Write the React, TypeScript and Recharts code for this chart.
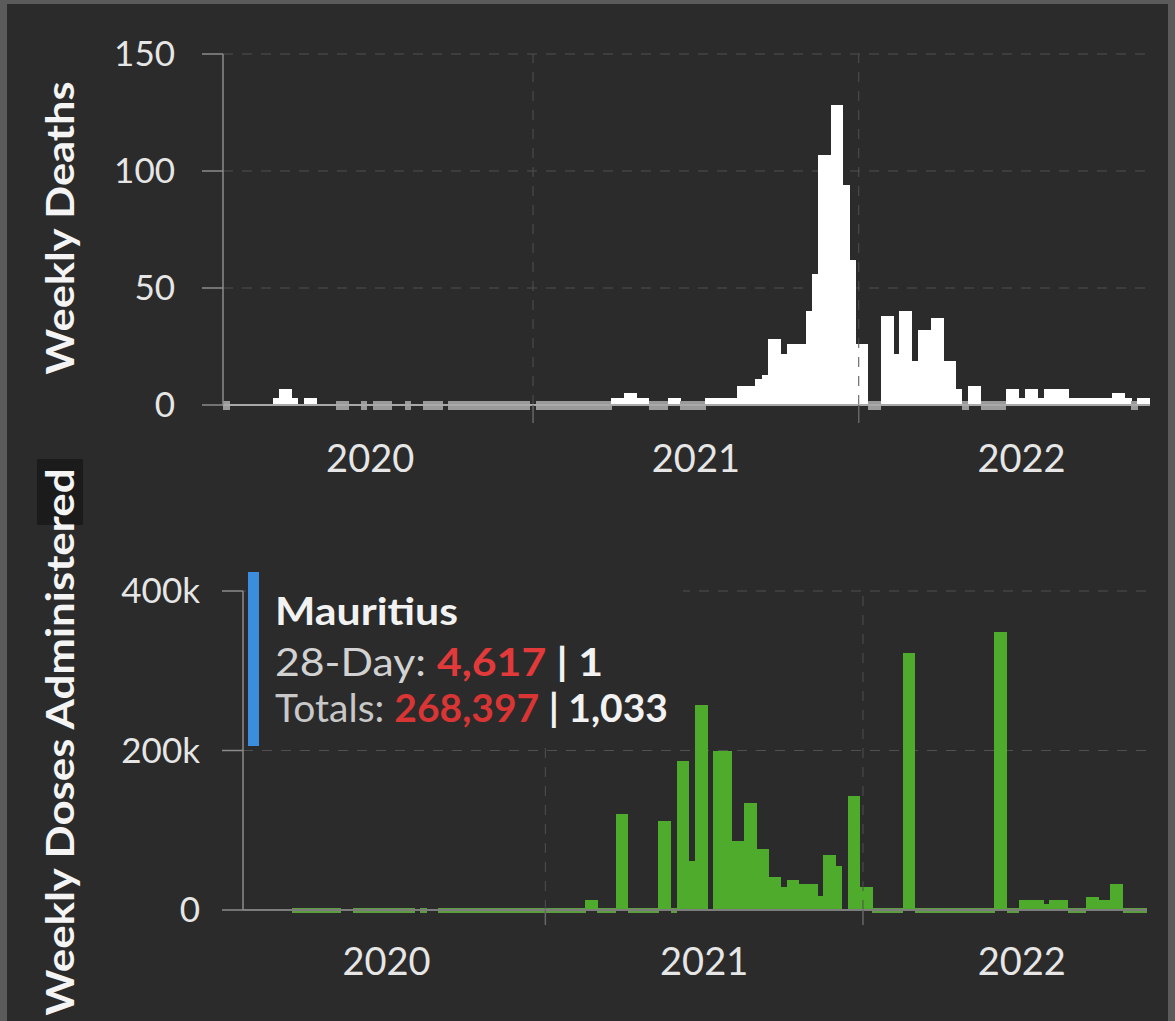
import { BarChart, Bar, XAxis, YAxis, CartesianGrid, ReferenceLine } from 'recharts';

const FONT = "Lato, 'Open Sans', sans-serif";

// one category per week, starting 22 Jan 2020
const START = Date.UTC(2020, 0, 22);
const weeks: string[] = Array.from({ length: 148 }, (_, i) =>
  new Date(START + i * 7 * 86400000).toISOString().slice(0, 10)
);

// null = nothing reported that week, 0 = reported zero (drawn as a flat marker)
const weeklyDeaths: (number | null)[] = [
  0, null, null, null, null, null, null, null, 3, 7,
  7, 3, null, 3, 3, null, null, null, 0, 0,
  null, null, 0, null, 0, 0, 0, null, null, 0,
  null, null, 0, 0, 0, null, 0, 0, 0, 0,
  0, 0, 0, 0, 0, 0, 0, 0, 0, null,
  0, 0, 0, 0, 0, 0, 0, 0, 0, 0,
  0, 0, 3, 3, 5, 5, 3, 3, 0, 0,
  0, 3, 3, 0, 0, 0, 0, 3, 3, 3,
  3, 3, 8, 8, 8, 11, 13, 28, 28, 22,
  26, 26, 26, 40, 56, 107, 107, 128, 128, 94,
  62, 26, 26, 0, 0, 38, 38, 22, 40, 40,
  19, 32, 32, 37, 37, 19, 19, 7, 0, 8,
  8, 0, 0, 0, 0, 7, 7, 3, 7, 7,
  3, 7, 7, 7, 7, 3, 3, 3, 3, 3,
  3, 3, 5, 5, 3, 0, 3, 3,
];

// thousands of doses
const weeklyDosesK: (number | null)[] = [
  null, null, null, null, null, null, null, null, 0, 0,
  0, 0, 0, 0, 0, 0, null, null, 0, 0,
  0, 0, 0, 0, 0, 0, 0, 0, null, 0,
  null, null, 0, 0, 0, 0, 0, 0, 0, 0,
  0, 0, 0, 0, 0, 0, 0, 0, 0, 0,
  0, 0, 0, 0, 0, 0, 12, 12, 0, 0,
  0, 121, 121, 0, 0, 0, 0, 0, 112, 112,
  0, 187, 187, 61, 257, 257, null, 200, 200, 200,
  86, 86, 134, 134, 77, 77, 42, 42, 29, 38,
  38, 33, 33, 33, 17, 69, 69, 55, null, 143,
  143, 29, 29, 0, 0, 0, 0, 0, 322, 322,
  0, 0, 0, 0, 0, 0, 0, 0, 0, 0,
  0, 0, 0, 348, 348, 0, 0, 12, 12, 12,
  12, 8, 12, 12, 12, 0, 0, 0, 16, 16,
  12, 12, 33, 33, 0, 0, 0, 0,
];

const deathTicks = [0, 50, 100, 150];
const doseTicks = [0, 200000, 400000];
const yearLineWeeks = ['2020-12-30', '2021-12-29'];
const yearLabelWeeks = ['2020-07-01', '2021-06-30', '2022-06-29'];
const yearLabels = ['2020', '2021', '2022'];

const data = weeks.map((week, i) => ({
  week,
  deaths: weeklyDeaths[i],
  doses: weeklyDosesK[i] == null ? null : (weeklyDosesK[i] as number) * 1000,
}));

const BG = '#2b2b2b';
const GRID = '#505050';
const AXIS = '#8c8c8c';
const TEXT = '#e6e6e6';
const GREEN = '#4fab2b';

function makeBarShape(key: 'deaths' | 'doses', fill: string, zeroFill: string, zeroLine: string, zeroH: number) {
  return (props: any) => {
    const { x, y, width, height, payload } = props;
    const v = payload[key];
    if (v === null || v === undefined) return <g />;
    if (v === 0) {
      return (
        <g shapeRendering="crispEdges">
          <rect x={x} y={y - zeroH / 2} width={width + 0.6} height={zeroH} fill={zeroFill} />
          <line x1={x} x2={x + width + 0.6} y1={y} y2={y} stroke={zeroLine} strokeWidth={1.5} />
        </g>
      );
    }
    return <rect x={x} y={y} width={width + 0.6} height={height} fill={fill} shapeRendering="crispEdges" />;
  };
}

function makeYearTick(tickLen: number, labelDy: number) {
  return (props: any) => {
    const { x, y, payload } = props;
    const li = yearLabelWeeks.indexOf(payload.value);
    if (li >= 0) {
      return (
        <text x={x} y={y + labelDy} textAnchor="middle" fill={TEXT} fontSize={38} fontFamily={FONT}>
          {yearLabels[li]}
        </text>
      );
    }
    return <line x1={x} x2={x} y1={y} y2={y + tickLen} stroke="#666" strokeWidth={1.5} />;
  };
}

function formatDoses(v: number) {
  return v === 0 ? '0' : `${v / 1000}k`;
}

export default function App() {
  return (
    <div style={{ position: 'absolute', left: 0, top: 0, width: 1175, height: 1021, background: '#5b5b5b', overflow: 'hidden' }}>
      <div style={{ position: 'absolute', left: 7, top: 4, width: 1161, height: 1017, background: BG }} />

      {/* deaths */}
      <div style={{ position: 'absolute', left: 0, top: 0 }}>
        <BarChart
          width={1175}
          height={495}
          data={data}
          margin={{ top: 54, right: 25, bottom: 0, left: 0 }}
          barCategoryGap={0}
          barGap={0}
        >
          <CartesianGrid vertical={false} stroke={GRID} strokeDasharray="10 9" />
          {yearLineWeeks.map((w) => (
            <ReferenceLine key={w} x={w} stroke={GRID} strokeDasharray="10 9" />
          ))}
          <XAxis
            dataKey="week"
            ticks={[...yearLineWeeks, ...yearLabelWeeks]}
            interval={0}
            tickSize={0}
            tickMargin={0}
            tickLine={false}
            height={90}
            axisLine={{ stroke: '#a9a9a9', strokeWidth: 2 }}
            tick={makeYearTick(18, 67)}
          />
          <YAxis
            domain={[0, 150]}
            ticks={deathTicks}
            width={223}
            tickSize={21}
            tickMargin={27}
            axisLine={{ stroke: AXIS, strokeWidth: 1.5 }}
            tickLine={{ stroke: AXIS, strokeWidth: 1.5 }}
            tick={{ fill: TEXT, fontSize: 35, fontFamily: FONT }}
          />
          <Bar
            dataKey="deaths"
            isAnimationActive={false}
            shape={makeBarShape('deaths', '#ffffff', '#9a9a9a', '#d8d8d8', 9)}
          />
        </BarChart>
      </div>

      {/* doses */}
      <div style={{ position: 'absolute', left: 0, top: 500 }}>
        <BarChart
          width={1175}
          height={505}
          data={data}
          margin={{ top: 91, right: 28, bottom: 0, left: 0 }}
          barCategoryGap={0}
          barGap={0}
        >
          <CartesianGrid vertical={false} stroke={GRID} strokeDasharray="10 9" />
          {yearLineWeeks.map((w) => (
            <ReferenceLine key={w} x={w} stroke={GRID} strokeDasharray="10 9" />
          ))}
          <XAxis
            dataKey="week"
            ticks={[...yearLineWeeks, ...yearLabelWeeks]}
            interval={0}
            tickSize={0}
            tickMargin={0}
            tickLine={false}
            height={95}
            axisLine={{ stroke: '#7d7d7d', strokeWidth: 2 }}
            tick={makeYearTick(15, 65)}
          />
          <YAxis
            domain={[0, 400000]}
            ticks={doseTicks}
            width={243}
            tickSize={21}
            tickMargin={22}
            tickFormatter={formatDoses}
            axisLine={{ stroke: AXIS, strokeWidth: 1.5 }}
            tickLine={{ stroke: AXIS, strokeWidth: 1.5 }}
            tick={{ fill: TEXT, fontSize: 35, fontFamily: FONT }}
          />
          <Bar
            dataKey="doses"
            isAnimationActive={false}
            shape={makeBarShape('doses', GREEN, '#5e9c40', '#78b25a', 5)}
          />
        </BarChart>
      </div>

      {/* axis titles and the country note */}
      <svg width={1175} height={1021} style={{ position: 'absolute', left: 0, top: 0, pointerEvents: 'none' }}>
        <text
          transform="translate(74,228) rotate(-90)"
          textAnchor="middle"
          fill="#f4f4f4"
          fontSize={39}
          fontWeight={700}
          fontFamily={FONT}
          textLength={293}
          lengthAdjust="spacingAndGlyphs"
        >
          Weekly Deaths
        </text>
        <rect x={37} y={459} width={46} height={66} fill="#1b1b1b" />
        <text
          transform="translate(74,742) rotate(-90)"
          textAnchor="middle"
          fill="#f4f4f4"
          fontSize={39}
          fontWeight={700}
          fontFamily={FONT}
          textLength={547}
          lengthAdjust="spacingAndGlyphs"
        >
          Weekly Doses Administered
        </text>

        <rect x={246} y={569} width={437} height={178} fill={BG} />
        <rect x={248} y={572} width={11} height={174} fill="#3b8ede" />
        <text x={275} y={625} fill="#f2f2f2" fontSize={38} fontWeight={700} fontFamily={FONT} textLength={183} lengthAdjust="spacingAndGlyphs">
          Mauritius
        </text>
        <text x={275} y={676} fontSize={38} fontFamily={FONT} textLength={328} lengthAdjust="spacingAndGlyphs">
          <tspan fill="#d2d2d2">28-Day: </tspan>
          <tspan fill="#e23a3a" fontWeight={700}>4,617</tspan>
          <tspan fill="#f2f2f2" fontWeight={700}> | 1</tspan>
        </text>
        <text x={275} y={722} fontSize={38} fontFamily={FONT} textLength={393} lengthAdjust="spacingAndGlyphs">
          <tspan fill="#c8c8c8">Totals: </tspan>
          <tspan fill="#d93535" fontWeight={700}>268,397</tspan>
          <tspan fill="#f2f2f2" fontWeight={700}> | 1,033</tspan>
        </text>
      </svg>
    </div>
  );
}
